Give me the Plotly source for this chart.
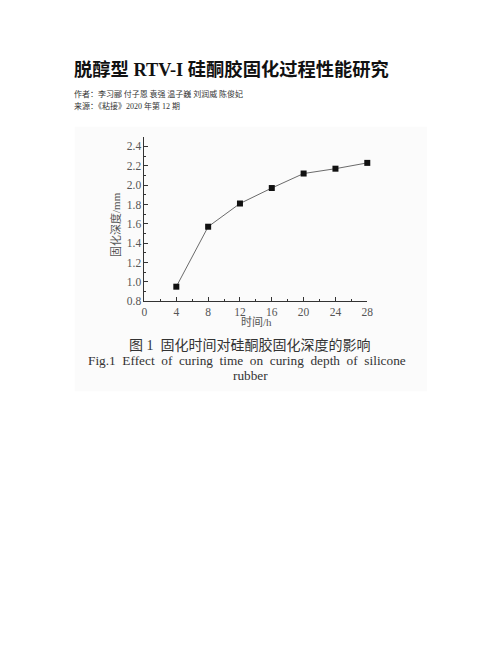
import plotly.graph_objects as go

hours = [4, 8, 12, 16, 20, 24, 28]
depth = [0.95, 1.57, 1.81, 1.97, 2.12, 2.17, 2.23]
x_ticks = [0, 4, 8, 12, 16, 20, 24, 28]
y_ticks = [0.8, 1.0, 1.2, 1.4, 1.6, 1.8, 2.0, 2.2, 2.4]

OFF = 8  # page body margin
W, H = 502 - 2 * OFF, 649 - 2 * OFF
def px(x): return (x - OFF) / W
def py(y): return 1 - (y - OFF) / H

fig = go.Figure()
fig.add_trace(go.Scatter(
    x=hours, y=depth, mode="lines+markers",
    line=dict(color="#6a6a6a", width=1),
    marker=dict(symbol="square", size=6, color="#111"),
    showlegend=False, cliponaxis=False,
))

serif = "Liberation Serif, Noto Sans CJK SC"
axis_common = dict(
    showgrid=False, zeroline=False, showline=True, linecolor="#333", linewidth=1,
    ticks="inside", ticklen=4, tickcolor="#333",
    tickfont=dict(family=serif, size=11.5, color="#555"),
    minor=dict(ticks="inside", ticklen=2, tickcolor="#333"),
)
fig.update_layout(
    width=W, height=H, margin=dict(l=0, r=0, t=0, b=0),
    paper_bgcolor="white", plot_bgcolor="rgba(0,0,0,0)",
    xaxis=dict(domain=[px(144), px(371)], range=[0, 28], tickvals=x_ticks,
               minor_dtick=2, ticklabelstandoff=0, **axis_common),
    yaxis=dict(domain=[py(304), py(138)], range=[0.8, 2.5], tickvals=y_ticks,
               ticktext=[f"{v:.1f}" for v in y_ticks], minor_dtick=0.1, **axis_common),
    shapes=[dict(type="rect", xref="paper", yref="paper", layer="below",
                 x0=px(73), x1=px(432), y0=py(395), y1=py(128),
                 fillcolor="#fbfbfb", line=dict(width=0))],
)

def ann(text, x, y, size, color="#222", family=serif, xanchor="center", yanchor="middle", angle=0):
    fig.add_annotation(text=text, x=px(x), y=py(y), xref="paper", yref="paper",
                       showarrow=False, xanchor=xanchor, yanchor=yanchor, textangle=angle,
                       font=dict(family=family, size=size, color=color))

ann("<b>脱醇型 RTV-I 硅酮胶固化过程性能研究</b>", 70, 70, 18.3, color="#111",
    family="Liberation Serif, Noto Sans CJK SC", xanchor="left")
ann("作者：李习郦 付子恩 袁强 温子巍 刘润威 陈俊妃", 70, 94, 8, color="#333",
    family="Noto Sans CJK SC", xanchor="left")
ann("来源：《粘接》2020 年第 12 期", 70, 107, 8, color="#333",
    family="Liberation Serif, Noto Sans CJK SC", xanchor="left")

ann("固化深度/mm", 115, 227, 11, color="#555", angle=-90)
ann("时间/h", 258, 324.5, 11, color="#555")
ann("图 1  固化时间对硅酮胶固化深度的影响", 251, 348, 14, color="#333")
ann("Fig.1  Effect  of  curing  time  on  curing  depth  of  silicone", 248, 364, 13.3, color="#333")
ann("rubber", 252, 379, 13.3, color="#333")

fig.write_html("out.html")
